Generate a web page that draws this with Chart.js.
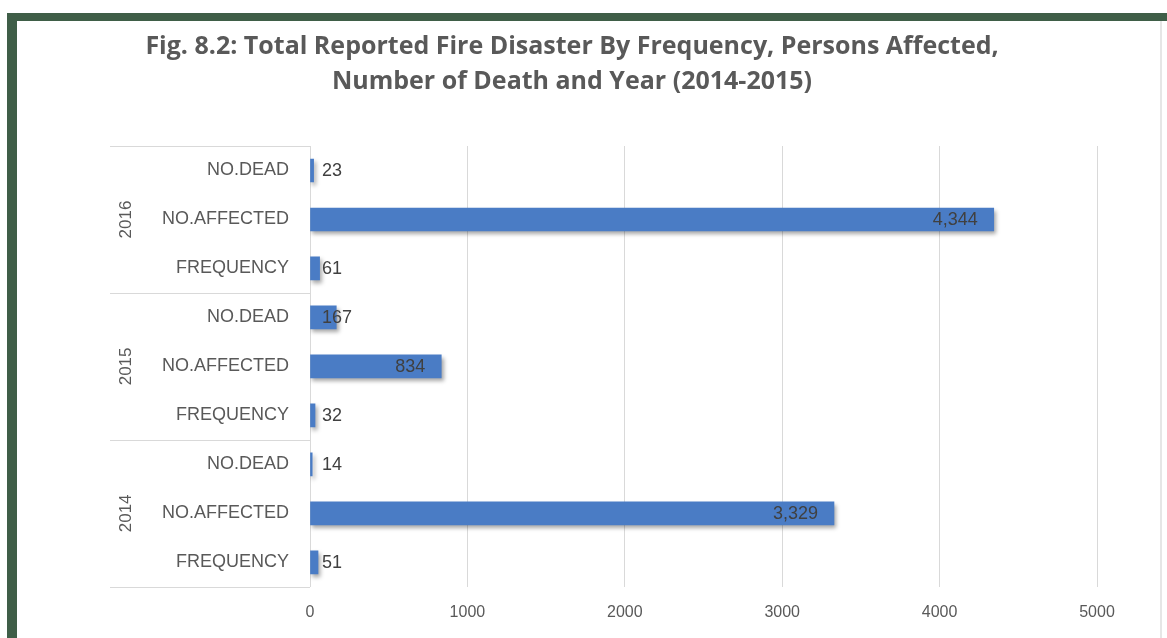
<!DOCTYPE html>
<html>
<head>
<meta charset="utf-8">
<script src="https://cdn.jsdelivr.net/npm/chart.js@4"></script>
<style>
html, body { margin: 0; padding: 0; background: #fff; }
#wrap { position: relative; width: 1167px; height: 638px; overflow: hidden; }
#topBand { position: absolute; left: 7px; top: 13px; width: 1160px; height: 8px; background: #3f5e48; }
#leftBand { position: absolute; left: 7px; top: 13px; width: 10px; height: 625px; background: #3f5e48; }
#rightLine { position: absolute; left: 1160px; top: 21px; width: 2px; height: 617px; background: #e6e6e6; }
canvas { position: absolute; left: 0; top: 0; }
</style>
</head>
<body>
<div id="wrap">
  <canvas id="grafico" width="1167" height="638"></canvas>
  <div id="topBand"></div>
  <div id="leftBand"></div>
  <div id="rightLine"></div>
</div>
<script>
// dados (de cima para baixo)
const anos = ['2016', '2015', '2014'];
const medidas = ['NO.DEAD', 'NO.AFFECTED', 'FREQUENCY'];
const noDead = [23, 167, 14];
const noAffected = [4344, 834, 3329];
const frequency = [61, 32, 51];
const xTicks = [0, 1000, 2000, 3000, 4000, 5000];

const titulo = [
    'Fig. 8.2: Total Reported Fire Disaster By Frequency, Persons Affected,',
    'Number of Death and Year (2014-2015)'
];

const labels = [];
const valores = [];
anos.forEach((ano, i) => {
    labels.push(medidas[0], medidas[1], medidas[2]);
    valores.push(noDead[i], noAffected[i], frequency[i]);
});

const corTexto = '#595959';
const corGrade = '#d9d9d9';
const fonte = "'Liberation Sans', Arial, sans-serif";

// sombra nas barras, como no Excel
const sombraPlugin = {
    id: 'sombra',
    beforeDatasetsDraw(chart) {
        const ctx = chart.ctx;
        ctx.save();
        ctx.shadowColor = 'rgba(0,0,0,0.35)';
        ctx.shadowBlur = 4;
        ctx.shadowOffsetX = 2;
        ctx.shadowOffsetY = 3;
    },
    afterDatasetsDraw(chart) {
        chart.ctx.restore();
    }
};

// rotulos de valor
const rotulosPlugin = {
    id: 'rotulos',
    afterDatasetsDraw(chart) {
        const ctx = chart.ctx;
        const x0 = chart.scales.x.getPixelForValue(0);
        ctx.save();
        ctx.font = '18px ' + fonte;
        ctx.fillStyle = '#404040';
        ctx.textBaseline = 'middle';
        ctx.textAlign = 'left';
        chart.getDatasetMeta(0).data.forEach((bar, i) => {
            const txt = valores[i].toLocaleString('en-US');
            const w = ctx.measureText(txt).width;
            const x = Math.max(bar.x - 16 - w, x0 + 12);
            ctx.fillText(txt, x, bar.y + 1);
        });
        ctx.restore();
    }
};

// agrupamento por ano no eixo vertical
const anosPlugin = {
    id: 'anos',
    afterDraw(chart) {
        const ctx = chart.ctx;
        const y = chart.scales.y;
        const area = chart.chartArea;
        const passo = y.getPixelForValue(1) - y.getPixelForValue(0);
        const esquerda = area.left - 200;
        ctx.save();
        ctx.strokeStyle = corGrade;
        ctx.lineWidth = 1;
        for (let g = 0; g <= anos.length; g++) {
            const yy = Math.round(y.getPixelForValue(g * 3) - passo / 2) + 0.5;
            ctx.beginPath();
            ctx.moveTo(esquerda, yy);
            ctx.lineTo(area.left, yy);
            ctx.stroke();
        }
        ctx.fillStyle = corTexto;
        ctx.font = '17px ' + fonte;
        ctx.textAlign = 'center';
        ctx.textBaseline = 'middle';
        anos.forEach((ano, g) => {
            const cy = y.getPixelForValue(g * 3 + 1);
            ctx.save();
            ctx.translate(esquerda + 16, cy);
            ctx.rotate(-Math.PI / 2);
            ctx.fillText(ano, 0, 0);
            ctx.restore();
        });
        ctx.restore();
    }
};

new Chart(document.getElementById('grafico').getContext('2d'), {
    type: 'bar',
    data: {
        labels: labels,
        datasets: [{
            data: valores,
            backgroundColor: '#4a7cc5',
            barThickness: 23
        }]
    },
    options: {
        indexAxis: 'y',
        responsive: false,
        animation: false,
        layout: { padding: { left: 47, right: 70, top: 0, bottom: 0 } },
        plugins: {
            legend: { display: false },
            tooltip: { enabled: false },
            title: {
                display: true,
                text: titulo,
                color: corTexto,
                font: { family: "'Open Sans', sans-serif", size: 25, weight: 'bold', lineHeight: 1.4 },
                padding: { top: 29, bottom: 47 }
            }
        },
        scales: {
            x: {
                min: 0,
                max: 5000,
                afterBuildTicks: s => { s.ticks = xTicks.map(v => ({ value: v })); },
                ticks: {
                    color: corTexto,
                    font: { family: fonte, size: 16 },
                    padding: 16,
                    callback: v => String(v)
                },
                grid: { color: corGrade, drawTicks: false },
                border: { display: false }
            },
            y: {
                grid: { display: false },
                border: { color: corGrade },
                ticks: { color: corTexto, font: { family: fonte, size: 18 }, padding: 13 },
                afterFit: s => { s.width = 263; }
            }
        }
    },
    plugins: [sombraPlugin, rotulosPlugin, anosPlugin]
});
</script>
</body>
</html>
